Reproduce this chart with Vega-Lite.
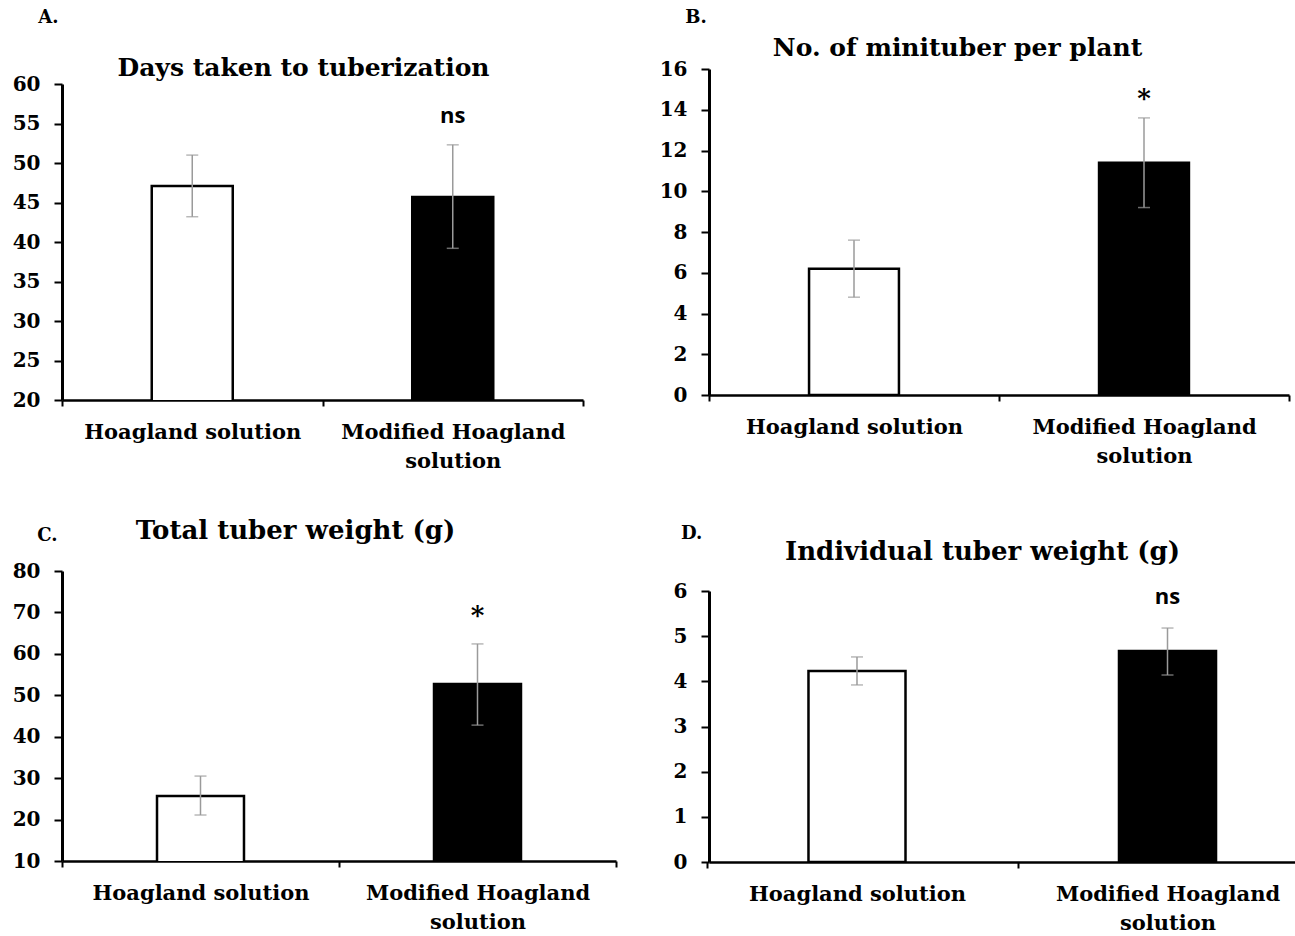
{
  "$schema": "https://vega.github.io/schema/vega-lite/v6.json",
  "background": "white",
  "padding": {"left": 12, "top": 9, "right": 0, "bottom": 0},
  "columns": 2,
  "align": "none",
  "spacing": 42,
  "config": {
    "view": {"stroke": null},
    "axis": {"grid": false, "domainColor": "black", "tickColor": "black", "labelColor": "black", "labelFont": "DejaVu Serif", "labelFontWeight": "bold", "labelFontSize": 20, "titleColor": "black", "labelOverlap": false},
    "axisX": {"title": null, "labelAngle": 0, "labelLimit": 0, "labelFontSize": 21, "labelLineHeight": 29, "labelPadding": 15, "tickSize": 6, "tickWidth": 2, "domainWidth": 2.5, "labelExpr": "datum.label == 'Modified Hoagland solution' ? ['Modified Hoagland', 'solution'] : datum.label"},
    "axisY": {"domainWidth": 3, "tickWidth": 2, "tickSize": 8, "labelPadding": 14, "titleAngle": 0, "titleAlign": "center", "titleBaseline": "middle", "titleFont": "DejaVu Serif", "titleFontWeight": "bold", "titleFontSize": 25},
    "title": {"anchor": "start", "font": "DejaVu Serif", "fontWeight": "bold", "fontSize": 18, "color": "black"}
  },
  "datasets": {
    "A": [
      {"group": "Hoagland solution", "mean": 47.1, "lo": 43.2, "hi": 51.0, "sig": ""},
      {"group": "Modified Hoagland solution", "mean": 45.7, "lo": 39.2, "hi": 52.3, "sig": "ns"}
    ],
    "B": [
      {"group": "Hoagland solution", "mean": 6.2, "lo": 4.8, "hi": 7.6, "sig": ""},
      {"group": "Modified Hoagland solution", "mean": 11.4, "lo": 9.2, "hi": 13.6, "sig": "*"}
    ],
    "C": [
      {"group": "Hoagland solution", "mean": 25.7, "lo": 21.1, "hi": 30.5, "sig": ""},
      {"group": "Modified Hoagland solution", "mean": 52.7, "lo": 42.8, "hi": 62.4, "sig": "*"}
    ],
    "D": [
      {"group": "Hoagland solution", "mean": 4.23, "lo": 3.92, "hi": 4.54, "sig": ""},
      {"group": "Modified Hoagland solution", "mean": 4.67, "lo": 4.14, "hi": 5.18, "sig": "ns"}
    ]
  },
  "concat": [
    {
      "spacing": 46,
      "vconcat": [
        {
          "data": {"name": "A"},
          "width": 521, "height": 331,
          "title": {"text": "A.", "dx": 26, "offset": 28},
          "encoding": {"x": {"field": "group", "type": "nominal", "sort": null, "scale": {"paddingInner": 0, "paddingOuter": 0}, "axis": {"tickBand": "extent"}}},
          "layer": [
            {"mark": {"type": "bar", "width": {"band": 0.311}, "stroke": "black", "strokeWidth": 2.5, "clip": true},
             "encoding": {
               "y": {"field": "mean", "type": "quantitative", "title": "Days taken to tuberization", "scale": {"domain": [20, 60], "zero": false, "nice": false, "range": [331, 15]}, "axis": {"values": [20, 25, 30, 35, 40, 45, 50, 55, 60], "titleX": 241, "titleY": -2}},
               "fill": {"field": "group", "type": "nominal", "sort": null, "scale": {"range": ["white", "black"]}, "legend": null}}},
            {"mark": {"type": "rule", "color": "#9a9a9a", "strokeWidth": 1.5},
             "encoding": {"y": {"field": "lo", "type": "quantitative", "title": "Days taken to tuberization", "axis": {"values": [20, 25, 30, 35, 40, 45, 50, 55, 60], "titleX": 241, "titleY": -2}}, "y2": {"field": "hi"}}},
            {"mark": {"type": "tick", "color": "#9a9a9a", "thickness": 1.5, "size": 12},
             "encoding": {"y": {"field": "lo", "type": "quantitative", "title": "Days taken to tuberization", "axis": {"values": [20, 25, 30, 35, 40, 45, 50, 55, 60], "titleX": 241, "titleY": -2}}}},
            {"mark": {"type": "tick", "color": "#9a9a9a", "thickness": 1.5, "size": 12},
             "encoding": {"y": {"field": "hi", "type": "quantitative", "title": "Days taken to tuberization", "axis": {"values": [20, 25, 30, 35, 40, 45, 50, 55, 60], "titleX": 241, "titleY": -2}}}},
            {"mark": {"type": "text", "dy": -29, "font": "Open Sans", "fontWeight": "bold", "fontSize": 22, "baseline": "middle"},
             "encoding": {"y": {"field": "hi", "type": "quantitative", "title": "Days taken to tuberization", "axis": {"values": [20, 25, 30, 35, 40, 45, 50, 55, 60], "titleX": 241, "titleY": -2}}, "text": {"field": "sig"}}}
          ]
        },
        {
          "data": {"name": "C"},
          "width": 554, "height": 290,
          "title": {"text": "C.", "dx": 25, "offset": -28},
          "encoding": {"x": {"field": "group", "type": "nominal", "sort": null, "scale": {"paddingInner": 0, "paddingOuter": 0}, "axis": {"tickBand": "extent"}}},
          "layer": [
            {"mark": {"type": "bar", "width": {"band": 0.314}, "stroke": "black", "strokeWidth": 2.5, "clip": true},
             "encoding": {
               "y": {"field": "mean", "type": "quantitative", "title": "Total tuber weight (g)", "scale": {"domain": [10, 80], "zero": false, "nice": false}, "axis": {"values": [10, 20, 30, 40, 50, 60, 70, 80], "titleX": 233, "titleY": -41, "titleFontSize": 26}},
               "fill": {"field": "group", "type": "nominal", "sort": null, "scale": {"range": ["white", "black"]}, "legend": null}}},
            {"mark": {"type": "rule", "color": "#9a9a9a", "strokeWidth": 1.5},
             "encoding": {"y": {"field": "lo", "type": "quantitative", "title": "Total tuber weight (g)", "axis": {"values": [10, 20, 30, 40, 50, 60, 70, 80], "titleX": 233, "titleY": -41, "titleFontSize": 26}}, "y2": {"field": "hi"}}},
            {"mark": {"type": "tick", "color": "#9a9a9a", "thickness": 1.5, "size": 12},
             "encoding": {"y": {"field": "lo", "type": "quantitative", "title": "Total tuber weight (g)", "axis": {"values": [10, 20, 30, 40, 50, 60, 70, 80], "titleX": 233, "titleY": -41, "titleFontSize": 26}}}},
            {"mark": {"type": "tick", "color": "#9a9a9a", "thickness": 1.5, "size": 12},
             "encoding": {"y": {"field": "hi", "type": "quantitative", "title": "Total tuber weight (g)", "axis": {"values": [10, 20, 30, 40, 50, 60, 70, 80], "titleX": 233, "titleY": -41, "titleFontSize": 26}}}},
            {"mark": {"type": "text", "dy": -28, "font": "DejaVu Serif", "fontWeight": "bold", "fontSize": 26, "baseline": "middle"},
             "encoding": {"y": {"field": "hi", "type": "quantitative", "title": "Total tuber weight (g)", "axis": {"values": [10, 20, 30, 40, 50, 60, 70, 80], "titleX": 233, "titleY": -41, "titleFontSize": 26}}, "text": {"field": "sig"}}}
          ]
        }
      ]
    },
    {
      "spacing": 59,
      "vconcat": [
        {
          "data": {"name": "B"},
          "width": 580, "height": 326,
          "title": {"text": "B.", "dx": 26, "offset": 8},
          "encoding": {"x": {"field": "group", "type": "nominal", "sort": null, "scale": {"paddingInner": 0, "paddingOuter": 0}, "axis": {"tickBand": "extent"}}},
          "layer": [
            {"mark": {"type": "bar", "width": {"band": 0.31}, "stroke": "black", "strokeWidth": 2.5, "clip": true},
             "encoding": {
               "y": {"field": "mean", "type": "quantitative", "title": "No. of minituber per plant", "scale": {"domain": [0, 16], "nice": false}, "axis": {"values": [0, 2, 4, 6, 8, 10, 12, 14, 16], "titleX": 248, "titleY": -22}},
               "fill": {"field": "group", "type": "nominal", "sort": null, "scale": {"range": ["white", "black"]}, "legend": null}}},
            {"mark": {"type": "rule", "color": "#9a9a9a", "strokeWidth": 1.5},
             "encoding": {"y": {"field": "lo", "type": "quantitative", "title": "No. of minituber per plant", "axis": {"values": [0, 2, 4, 6, 8, 10, 12, 14, 16], "titleX": 248, "titleY": -22}}, "y2": {"field": "hi"}}},
            {"mark": {"type": "tick", "color": "#9a9a9a", "thickness": 1.5, "size": 12},
             "encoding": {"y": {"field": "lo", "type": "quantitative", "title": "No. of minituber per plant", "axis": {"values": [0, 2, 4, 6, 8, 10, 12, 14, 16], "titleX": 248, "titleY": -22}}}},
            {"mark": {"type": "tick", "color": "#9a9a9a", "thickness": 1.5, "size": 12},
             "encoding": {"y": {"field": "hi", "type": "quantitative", "title": "No. of minituber per plant", "axis": {"values": [0, 2, 4, 6, 8, 10, 12, 14, 16], "titleX": 248, "titleY": -22}}}},
            {"mark": {"type": "text", "dy": -19, "font": "DejaVu Serif", "fontWeight": "bold", "fontSize": 26, "baseline": "middle"},
             "encoding": {"y": {"field": "hi", "type": "quantitative", "title": "No. of minituber per plant", "axis": {"values": [0, 2, 4, 6, 8, 10, 12, 14, 16], "titleX": 248, "titleY": -22}}, "text": {"field": "sig"}}}
          ]
        },
        {
          "data": {"name": "D"},
          "width": 586, "height": 271,
          "title": {"text": "D.", "dx": 8, "offset": -5},
          "encoding": {"x": {"field": "group", "type": "nominal", "sort": null, "scale": {"paddingInner": 0.182, "paddingOuter": 0.0346, "align": 0.977}, "axis": {"bandPosition": 0, "tickExtra": false, "tickOffset": -23, "labelOffset": 23}}},
          "layer": [
            {"mark": {"type": "bar", "width": {"band": 0.382}, "stroke": "black", "strokeWidth": 2.5, "clip": true},
             "encoding": {
               "y": {"field": "mean", "type": "quantitative", "title": "Individual tuber weight (g)", "scale": {"domain": [0, 6], "nice": false}, "axis": {"values": [0, 1, 2, 3, 4, 5, 6], "titleX": 273, "titleY": -40, "titleFontSize": 26}},
               "fill": {"field": "group", "type": "nominal", "sort": null, "scale": {"range": ["white", "black"]}, "legend": null}}},
            {"mark": {"type": "rule", "color": "#9a9a9a", "strokeWidth": 1.5},
             "encoding": {"y": {"field": "lo", "type": "quantitative", "title": "Individual tuber weight (g)", "axis": {"values": [0, 1, 2, 3, 4, 5, 6], "titleX": 273, "titleY": -40, "titleFontSize": 26}}, "y2": {"field": "hi"}}},
            {"mark": {"type": "tick", "color": "#9a9a9a", "thickness": 1.5, "size": 12},
             "encoding": {"y": {"field": "lo", "type": "quantitative", "title": "Individual tuber weight (g)", "axis": {"values": [0, 1, 2, 3, 4, 5, 6], "titleX": 273, "titleY": -40, "titleFontSize": 26}}}},
            {"mark": {"type": "tick", "color": "#9a9a9a", "thickness": 1.5, "size": 12},
             "encoding": {"y": {"field": "hi", "type": "quantitative", "title": "Individual tuber weight (g)", "axis": {"values": [0, 1, 2, 3, 4, 5, 6], "titleX": 273, "titleY": -40, "titleFontSize": 26}}}},
            {"mark": {"type": "text", "dy": -31, "font": "Open Sans", "fontWeight": "bold", "fontSize": 22, "baseline": "middle"},
             "encoding": {"y": {"field": "hi", "type": "quantitative", "title": "Individual tuber weight (g)", "axis": {"values": [0, 1, 2, 3, 4, 5, 6], "titleX": 273, "titleY": -40, "titleFontSize": 26}}, "text": {"field": "sig"}}}
          ]
        }
      ]
    }
  ]
}
